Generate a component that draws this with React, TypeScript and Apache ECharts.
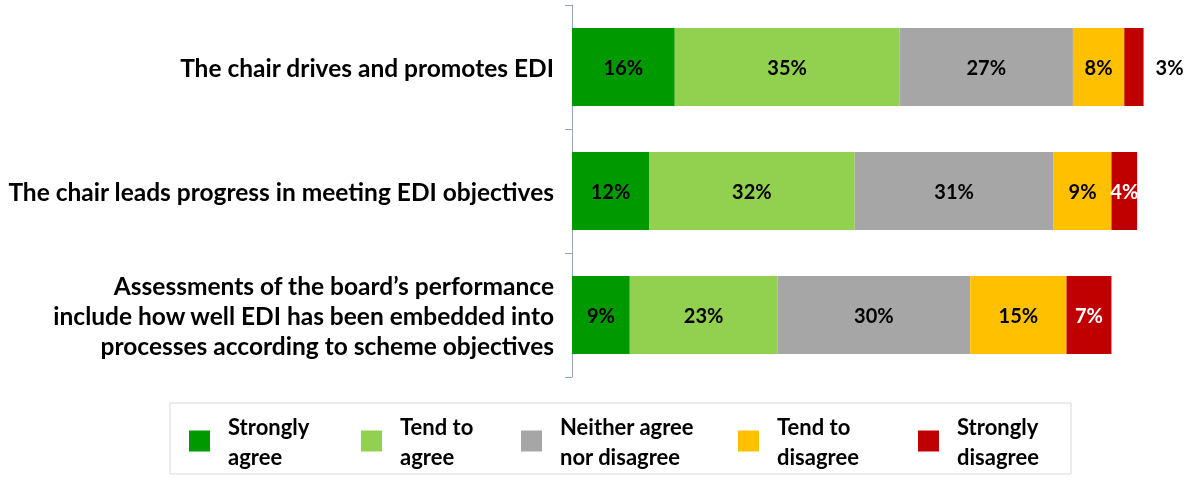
import React, { useEffect, useRef } from "react";
import * as echarts from "echarts";

const categories = [
  "The chair drives and promotes EDI",
  "The chair leads progress in meeting EDI objectives",
  "Assessments of the board’s performance\ninclude how well EDI has been embedded into\nprocesses according to scheme objectives",
];
const seriesNames = ["Strongly agree", "Tend to agree", "Neither agree nor disagree", "Tend to disagree", "Strongly disagree"];
const legendLabels = ["Strongly\nagree", "Tend to\nagree", "Neither agree\nnor disagree", "Tend to\ndisagree", "Strongly\ndisagree"];
const stronglyAgree = [16, 12, 9];
const tendToAgree = [35, 32, 23];
const neither = [27, 31, 30];
const tendToDisagree = [8, 9, 15];
const stronglyDisagree = [3, 4, 7];

const colors = ["#009900", "#92D050", "#A6A6A6", "#FFC000", "#C00000"];
const FONT = "Lato";
const legendX = [189, 361, 521, 738, 918];

export default function App() {
  const ref = useRef<HTMLDivElement>(null);
  useEffect(() => {
    if (!ref.current) return;
    const chart = echarts.init(ref.current, null, { renderer: "svg" });
    const labelBase = {
      show: true,
      position: "inside",
      formatter: "{c}%",
      color: "#000",
      fontSize: 20,
      fontWeight: "bold",
      fontFamily: FONT,
    };
    const allData = [stronglyAgree, tendToAgree, neither, tendToDisagree, stronglyDisagree];
    const series = allData.map((d, i) => {
      let data: any[] = d.map((v) => ({ value: v }));
      if (i === 4) {
        data = d.map((v, j) =>
          j === 0
            ? { value: v, label: { position: "right", distance: 12, color: "#000" } }
            : { value: v, label: { color: "#fff" } }
        );
      }
      return {
        name: seriesNames[i],
        type: "bar",
        stack: "total",
        barCategoryGap: "37%",
        itemStyle: { color: colors[i] },
        label: labelBase,
        data,
      };
    });
    const legends = seriesNames.map((n, i) => ({
      data: [n],
      left: legendX[i],
      top: 411,
      padding: 0,
      itemWidth: 21,
      itemHeight: 21,
      icon: "rect",
      selectedMode: false,
      formatter: () => legendLabels[i],
      textStyle: {
        fontSize: 22,
        fontWeight: "bold",
        fontFamily: FONT,
        color: "#000",
        lineHeight: 30,
        padding: [0, 0, 0, 13],
      },
    }));
    chart.setOption({
      animation: false,
      color: colors,
      grid: { left: 572, top: 5, width: 578, height: 372, containLabel: false },
      xAxis: { type: "value", min: 0, max: 90, show: false },
      yAxis: {
        type: "category",
        inverse: true,
        data: categories,
        axisLine: { show: true, lineStyle: { color: "#95A7BF", width: 1 } },
        axisTick: { show: true, length: 7, lineStyle: { color: "#95A7BF" } },
        axisLabel: {
          margin: 18,
          fontSize: 24.5,
          fontWeight: "bold",
          fontFamily: FONT,
          color: "#000",
          lineHeight: 30,
          align: "right",
        },
        splitLine: { show: false },
      },
      legend: legends,
      graphic: [
        {
          type: "rect",
          shape: { x: 170, y: 403, width: 901, height: 71 },
          style: { fill: "none", stroke: "#D9D9D9", lineWidth: 1 },
          silent: true,
        },
      ],
      series,
    });
    return () => chart.dispose();
  }, []);
  return <div ref={ref} style={{ position: "fixed", left: 0, top: 0, width: 1191, height: 481 }} />;
}
